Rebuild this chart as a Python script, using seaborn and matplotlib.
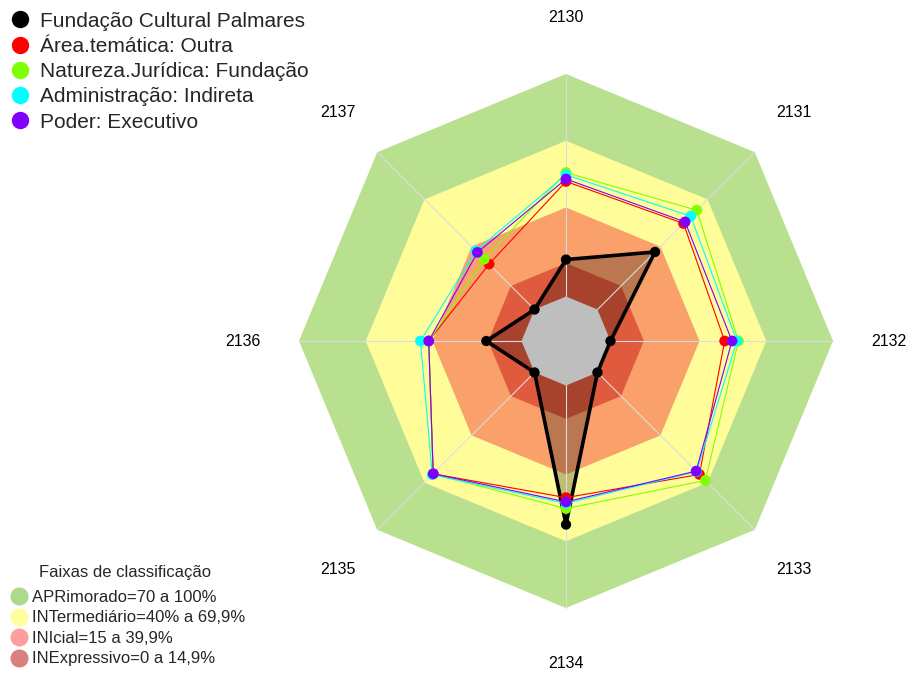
import numpy as np
import pandas as pd
import matplotlib
matplotlib.use("Agg")
import matplotlib.pyplot as plt
from matplotlib.lines import Line2D
import seaborn as sns

# ---------------- data ----------------
categories = ['2130', '2131', '2132', '2133', '2134', '2135', '2136', '2137']
series_names = ['Fundação Cultural Palmares', 'Área.temática: Outra',
                'Natureza.Jurídica: Fundação', 'Administração: Indireta',
                'Poder: Executivo']
palmares = [16.6, 36.6, 0, 0, 62.5, 0, 15.8, 0]
outra = [51.7, 54.7, 51.3, 64.8, 50.4, 64.4, 41.7, 28.9]
fundacao = [55.7, 63.1, 57.5, 68.6, 55.3, 64.5, 41.7, 32.0]
indireta = [54.7, 59.3, 56.8, 63.0, 53.0, 65.0, 45.4, 37.3]
executivo = [52.8, 55.7, 54.6, 62.7, 52.3, 64.4, 41.7, 36.3]

band_limits = [100, 70, 40, 15]
band_title = 'Faixas de classificação'
band_labels = ['APRimorado=70 a 100%', 'INTermediário=40% a 69,9%',
               'INIcial=15 a 39,9%', 'INExpressivo=0 a 14,9%']

# ---------------- style ----------------
series_colors = ['#000000', '#FF0000', '#80FF00', '#00FFFF', '#8000FF']
band_colors = ['#B8E08E', '#FFFD99', '#F9A06B', '#E05A3D']
legend_band_colors = ['#ACD98A', '#FFFF9E', '#FF9E9E', '#D98080']
RMIN = -20.0
RMAX = 100.0
PX = 267.0  # outer radius in pixels

sns.set_theme(style="white")
plt.rcParams['font.family'] = ['Liberation Sans', 'DejaVu Sans']

W, H = 907, 673
fig = plt.figure(figsize=(W / 100, H / 100), dpi=100)
ax = fig.add_axes([0, 0, 1, 1])
cx, cy = 566, 341
ax.set_xlim(-cx, W - cx)
ax.set_ylim(-(H - cy), cy)
ax.set_aspect('equal')
ax.axis('off')

n = len(categories)
ang = np.deg2rad(90 - 360.0 / n * np.arange(n))


def xy(vals):
    r = (np.asarray(vals, dtype=float) - RMIN) / (RMAX - RMIN) * PX
    return r * np.cos(ang), r * np.sin(ang)


def closed(a):
    return np.append(a, a[0])


# bands
for lim, col in zip(band_limits, band_colors):
    x, y = xy([lim] * n)
    ax.fill(x, y, color=col, lw=0, zorder=1)

# black series fill
x, y = xy(palmares)
ax.fill(x, y, color='black', alpha=0.25, lw=0, zorder=2)

# spokes
xo, yo = xy([RMAX] * n)
for i in range(n):
    ax.plot([0, xo[i]], [0, yo[i]], color='#DCDCDC', lw=0.8, zorder=3)

# grey centre
x, y = xy([0] * n)
ax.fill(x, y, color='#BEBEBE', lw=0, zorder=4)

# series
all_vals = [palmares, outra, fundacao, indireta, executivo]
for k, (name, vals, col) in enumerate(zip(series_names, all_vals, series_colors)):
    x, y = xy(vals)
    df = pd.DataFrame({'x': closed(x), 'y': closed(y), 'o': np.arange(n + 1)})
    lw = 2.6 if k == 0 else 0.8
    z = 5 + k
    sns.lineplot(data=df, x='x', y='y', sort=False, estimator=None, ax=ax,
                 color=col, lw=lw, zorder=z)
    sns.scatterplot(x=x, y=y, ax=ax, color=col, s=55 if k == 0 else 60,
                    edgecolor='none', linewidth=0, zorder=z + 0.5)

# category labels
lx, ly = xy([RMIN + (RMAX - RMIN) * 323.0 / PX] * n)
for i, c in enumerate(categories):
    ax.text(lx[i], ly[i], c, ha='center', va='center', fontsize=11.5, color='black')

# legend 1
h1 = [Line2D([], [], marker='o', ls='none', color=c, markersize=11.5) for c in series_colors]
leg1 = ax.legend(h1, series_names, loc='upper left', bbox_to_anchor=(-0.002, 0.995),
                 bbox_transform=fig.transFigure, frameon=False, fontsize=15,
                 handletextpad=0.3, labelspacing=0.3, borderaxespad=0,
                 handlelength=1.3)
ax.add_artist(leg1)

# legend 2
h2 = [Line2D([], [], marker='o', ls='none', color=c, markersize=12,
             markeredgecolor=c) for c in legend_band_colors]
leg2 = ax.legend(h2, band_labels, loc='lower left', bbox_to_anchor=(0.002, 0.0),
                 bbox_transform=fig.transFigure, frameon=False, fontsize=12,
                 handletextpad=0.1, labelspacing=0.33, borderaxespad=0.0,
                 handlelength=1.3)
fig.text(125 / W, 1 - 572 / H, band_title, ha='center', va='center', fontsize=12)

fig.savefig('out.png', dpi=100)
